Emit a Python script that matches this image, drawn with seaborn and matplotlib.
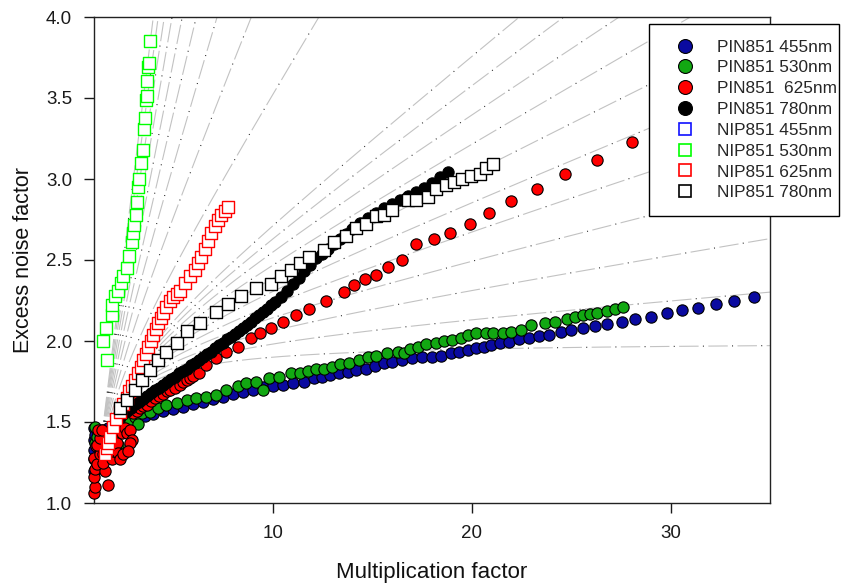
import numpy as np
import pandas as pd
import matplotlib
matplotlib.use("Agg")
import matplotlib.pyplot as plt
from matplotlib.lines import Line2D
import seaborn as sns

# ---- measured excess noise factor vs multiplication factor ----
pin455_m = [1.0, 1.01, 1.02, 1.03, 1.04, 1.08, 1.12, 1.2, 1.4, 1.7, 2.0, 2.4, 2.8, 3.2, 3.6, 4.0,
            4.5, 5.0, 5.5, 6.0, 6.5, 7.0, 7.5, 8.0, 8.5, 9.0, 9.5, 10.0, 10.5, 11.0, 11.6, 12.1,
            12.5, 12.9, 13.35, 13.77, 14.2, 14.7, 15.15, 15.6, 16.0, 16.5, 17.0, 17.5, 18.0,
            18.45, 18.95, 19.37, 19.8, 20.2, 20.6, 21.0, 21.45, 21.9, 22.4, 22.9, 23.4, 23.9,
            24.5, 25.0, 25.6, 26.2, 26.8, 27.55, 28.2, 29.0, 29.8, 30.6, 31.4, 32.3, 33.2, 34.2]
pin455_f = [1.20, 1.27, 1.33, 1.39, 1.46, 1.42, 1.36, 1.44, 1.45, 1.46, 1.47, 1.49, 1.50, 1.52,
            1.535, 1.55, 1.565, 1.58, 1.595, 1.61, 1.625, 1.64, 1.655, 1.67, 1.685, 1.70, 1.715,
            1.725, 1.73, 1.74, 1.75, 1.77, 1.78, 1.79, 1.80, 1.81, 1.82, 1.83, 1.845, 1.862,
            1.872, 1.883, 1.893, 1.90, 1.903, 1.907, 1.924, 1.934, 1.944, 1.955, 1.96, 1.975,
            1.99, 1.996, 2.01, 2.017, 2.03, 2.04, 2.057, 2.07, 2.08, 2.09, 2.105, 2.12, 2.134,
            2.15, 2.17, 2.19, 2.205, 2.226, 2.247, 2.273]

pin530_m = [1.05, 1.07, 1.15, 1.49, 1.8, 2.0, 2.24, 2.6, 2.82, 3.08, 3.24, 3.41, 3.83, 4.24,
            4.66, 5.17, 5.67, 6.17, 6.67, 7.17, 7.67, 8.25, 8.67, 9.18, 9.5, 9.84, 10.3, 10.9,
            11.4, 11.76, 12.2, 12.6, 13.0, 13.4, 13.85, 14.35, 14.77, 15.2, 15.77, 16.3, 16.6,
            16.9, 17.3, 17.7, 18.2, 18.6, 19.0, 19.45, 19.8, 20.2, 20.7, 21.1, 21.6, 22.0,
            22.5, 23.0, 23.7, 24.2, 24.8, 25.2, 25.6, 25.95, 26.3, 26.8, 27.2, 27.6]
pin530_f = [1.37, 1.47, 1.41, 1.41, 1.38, 1.40, 1.36, 1.47, 1.50, 1.53, 1.49, 1.553, 1.564,
            1.585, 1.605, 1.62, 1.636, 1.646, 1.656, 1.667, 1.70, 1.72, 1.74, 1.75, 1.70, 1.77,
            1.78, 1.80, 1.80, 1.817, 1.83, 1.83, 1.84, 1.86, 1.866, 1.88, 1.90, 1.907, 1.928,
            1.934, 1.924, 1.949, 1.96, 1.98, 1.986, 2.0, 2.006, 2.017, 2.037, 2.05, 2.047,
            2.047, 2.05, 2.057, 2.068, 2.10, 2.11, 2.12, 2.134, 2.15, 2.16, 2.167, 2.17, 2.185,
            2.198, 2.208]

pin625_m = [1.0, 1.07, 1.0, 1.07, 1.0, 1.15, 1.12, 1.32, 1.15, 1.32, 1.24, 1.40, 1.57, 1.49,
            1.46, 1.74, 1.90, 1.99, 2.16, 2.24, 2.32, 2.49, 2.41, 2.57, 2.66, 2.82, 2.91, 2.82,
            2.74, 3.0, 3.2, 3.33, 3.5, 3.66, 3.9, 4.08, 4.3, 4.5, 4.7, 4.83, 5.1, 5.33, 5.5,
            5.67, 5.85, 6.0, 6.3, 6.67, 7.17, 7.67, 8.25, 8.9, 9.34, 9.93, 10.5, 11.18, 11.85,
            12.7, 13.6, 14.1, 14.65, 15.2, 15.8, 16.5, 17.2, 18.1, 18.9, 19.9, 20.9, 22.0, 23.3,
            24.7, 26.3, 28.05]
pin625_f = [1.06, 1.10, 1.16, 1.21, 1.28, 1.24, 1.35, 1.30, 1.36, 1.40, 1.45, 1.45, 1.20, 1.25,
            1.30, 1.11, 1.27, 1.32, 1.37, 1.31, 1.27, 1.30, 1.43, 1.46, 1.43, 1.45, 1.39, 1.37,
            1.32, 1.555, 1.57, 1.585, 1.60, 1.605, 1.63, 1.65, 1.66, 1.67, 1.69, 1.70, 1.71,
            1.73, 1.75, 1.76, 1.77, 1.784, 1.80, 1.85, 1.893, 1.934, 1.965, 2.017, 2.05, 2.08,
            2.12, 2.16, 2.196, 2.25, 2.30, 2.346, 2.383, 2.41, 2.455, 2.50, 2.60, 2.628, 2.665,
            2.72, 2.79, 2.864, 2.94, 3.03, 3.12, 3.226]

pin780_m = [2.3, 2.5, 2.7, 2.9, 3.1, 3.3, 3.5, 3.7, 3.9, 4.1, 4.3, 4.5, 4.7, 4.9, 5.1, 5.3, 5.5,
            5.7, 5.9, 6.1, 6.3, 6.5, 6.7, 6.9, 7.1, 7.3, 7.5, 7.7, 7.9, 8.1, 8.3, 8.5, 8.7, 8.9,
            9.1, 9.3, 9.5, 9.7, 9.9, 10.1, 10.4, 10.7, 11.0, 11.3, 11.6, 11.9, 12.2, 12.5, 12.8,
            13.1, 13.4, 13.7, 14.0, 14.4, 14.8, 15.2, 15.6, 16.0, 16.4, 16.8, 17.2, 17.6, 18.0,
            18.4, 18.8]
pin780_f = [1.53, 1.55, 1.565, 1.585, 1.61, 1.625, 1.64, 1.66, 1.68, 1.695, 1.71, 1.73, 1.75,
            1.765, 1.78, 1.80, 1.815, 1.83, 1.85, 1.865, 1.88, 1.90, 1.92, 1.935, 1.955, 1.975,
            1.99, 2.01, 2.025, 2.045, 2.06, 2.08, 2.10, 2.12, 2.14, 2.16, 2.18, 2.20, 2.22, 2.24,
            2.27, 2.31, 2.35, 2.39, 2.43, 2.47, 2.51, 2.54, 2.57, 2.60, 2.63, 2.66, 2.69, 2.73,
            2.76, 2.79, 2.82, 2.845, 2.87, 2.895, 2.92, 2.945, 2.975, 3.01, 3.045]

nip455_m = []
nip455_f = []

nip530_m = [1.46, 1.6, 1.66, 1.91, 1.91, 2.07, 2.24, 2.36, 2.5, 2.66, 2.79, 2.92, 2.99, 3.04,
            3.13, 3.19, 3.24, 3.29, 3.38, 3.46, 3.53, 3.58, 3.63, 3.66, 3.69, 3.74, 3.78, 3.83]
nip530_f = [2.0, 2.08, 1.88, 2.16, 2.22, 2.28, 2.31, 2.356, 2.40, 2.45, 2.525, 2.613, 2.665,
            2.716, 2.78, 2.86, 2.95, 3.0, 3.10, 3.18, 3.31, 3.375, 3.49, 3.51, 3.607, 3.693,
            3.714, 3.85]

nip625_m = [1.55, 1.65, 1.74, 1.82, 1.99, 2.15, 2.32, 2.5, 2.66, 2.8, 2.91, 3.08, 3.24, 3.37,
            3.49, 3.62, 3.74, 3.87, 3.99, 4.12, 4.24, 4.37, 4.5, 4.66, 4.83, 5.0, 5.17, 5.33,
            5.58, 5.83, 6.08, 6.25, 6.42, 6.58, 6.75, 6.92, 7.09, 7.25, 7.42, 7.59, 7.75]
nip625_f = [1.30, 1.34, 1.37, 1.41, 1.47, 1.52, 1.564, 1.61, 1.646, 1.69, 1.72, 1.76, 1.80,
            1.84, 1.88, 1.92, 1.965, 2.0, 2.04, 2.075, 2.11, 2.14, 2.17, 2.21, 2.25, 2.27, 2.29,
            2.31, 2.36, 2.40, 2.44, 2.48, 2.52, 2.57, 2.62, 2.665, 2.71, 2.75, 2.78, 2.80, 2.83]

nip780_m = [2.32, 2.66, 3.08, 3.41, 3.83, 4.24, 4.66, 5.17, 5.67, 6.33, 7.17, 7.75, 8.42, 9.18,
            9.93, 10.4, 10.9, 11.4, 11.85, 12.6, 13.1, 13.7, 14.2, 14.7, 15.2, 15.6, 16.0, 16.8,
            17.2, 17.8, 18.2, 18.7, 19.1, 19.5, 19.95, 20.4, 20.7, 21.1]
nip780_f = [1.585, 1.636, 1.70, 1.76, 1.82, 1.88, 1.93, 1.99, 2.06, 2.11, 2.18, 2.23, 2.28,
            2.325, 2.35, 2.40, 2.44, 2.48, 2.52, 2.56, 2.61, 2.65, 2.70, 2.72, 2.77, 2.78, 2.81,
            2.87, 2.87, 2.89, 2.94, 2.96, 2.98, 3.0, 3.02, 3.03, 3.07, 3.09]

# McIntyre ionisation-ratio curves drawn behind the data
k_values = [0.0, 0.01, 0.02, 0.03, 0.04, 0.05, 0.06, 0.07, 0.08, 0.09, 0.1,
            0.2, 0.3, 0.4, 0.5, 0.6, 0.7, 0.8, 0.9, 1.0]

x_ticks = [10, 20, 30]
y_ticks = [1.0, 1.5, 2.0, 2.5, 3.0, 3.5, 4.0]

series = [
    ("PIN851 455nm", pin455_m, pin455_f, "o", "#0a0aa0", "black"),
    ("PIN851 530nm", pin530_m, pin530_f, "o", "#12a812", "black"),
    ("PIN851  625nm", pin625_m, pin625_f, "o", "#ff0000", "black"),
    ("PIN851 780nm", pin780_m, pin780_f, "o", "#000000", "black"),
    ("NIP851 455nm", nip455_m, nip455_f, "s", "white", "#1010ff"),
    ("NIP851 530nm", nip530_m, nip530_f, "s", "white", "#00ff00"),
    ("NIP851 625nm", nip625_m, nip625_f, "s", "white", "#ff0000"),
    ("NIP851 780nm", nip780_m, nip780_f, "s", "white", "#000000"),
]

sns.set_style("ticks")
plt.rcParams["font.family"] = ["Liberation Sans", "DejaVu Sans"]
plt.rcParams["lines.scale_dashes"] = False

fig = plt.figure(figsize=(8.53, 5.88), dpi=100)
ax = fig.add_axes([93.6 / 853, 1 - 503 / 588, (770 - 93.6) / 853, (503 - 17) / 588])

m_grid = np.linspace(1.0, 35.0, 1500)
for k in k_values:
    f_curve = k * m_grid + (1 - k) * (2 - 1 / m_grid)
    curve = pd.DataFrame({"M": m_grid, "F": f_curve})
    sns.lineplot(data=curve, x="M", y="F", ax=ax, color="#c2c2c2", lw=0.8,
                 linestyle=(0, (14, 7)), zorder=1, estimator=None, sort=False)
    sns.lineplot(data=curve, x="M", y="F", ax=ax, color="#202020", lw=0.8,
                 linestyle=(3.9, (0.7, 20.3)), zorder=1.1, estimator=None, sort=False)

for label, m, f, marker, face, edge in series:
    if len(m) == 0:
        continue
    df = pd.DataFrame({"M": m, "F": f})
    sns.scatterplot(data=df, x="M", y="F", ax=ax, marker=marker,
                    s=66 if marker == "o" else 72,
                    color=face, edgecolor=edge,
                    linewidth=0.8 if marker == "o" else 1.0,
                    zorder=3 if marker == "o" else 4, legend=False)

for coll in ax.collections:
    coll.set_clip_on(False)

ax.set_xlim(1, 35)
ax.set_ylim(1.0, 4.0)
ax.set_xticks(x_ticks)
ax.set_yticks(y_ticks)
ax.set_yticklabels([f"{v:.1f}" for v in y_ticks])
ax.tick_params(direction="out", length=7, width=1, labelsize=13.5, colors="#1a1a1a")
ax.tick_params(axis="x", pad=9)
ax.tick_params(axis="y", pad=8.5)
for sp in ax.spines.values():
    sp.set_visible(True)
    sp.set_linewidth(1.0)
    sp.set_color("#222222")

ax.set_xlabel("Multiplication factor", fontsize=16, labelpad=14, color="#111111")
ax.set_ylabel("Excess noise factor", fontsize=15.5, labelpad=8.5, color="#111111")

handles = []
for label, m, f, marker, face, edge in series:
    handles.append(Line2D([], [], linestyle="none", marker=marker,
                          markersize=10 if marker == "o" else 8,
                          markerfacecolor=face, markeredgecolor=edge,
                          markeredgewidth=0.8 if marker == "o" else 1.2, label=label))

# legend box spans a fixed width to the right of the plotting area
leg = fig.legend(handles=handles, loc="upper left", mode="expand",
                 bbox_to_anchor=(649 / 853, 1 - 219 / 588, 190 / 853, 195 / 588),
                 frameon=True, fancybox=False, framealpha=1, edgecolor="black",
                 fontsize=12.4, borderpad=0.9, labelspacing=0.335,
                 handlelength=2.33, handletextpad=0.72, borderaxespad=0)
leg.get_frame().set_linewidth(1.0)
leg.set_zorder(10)

fig.savefig("out.png", dpi=100)
